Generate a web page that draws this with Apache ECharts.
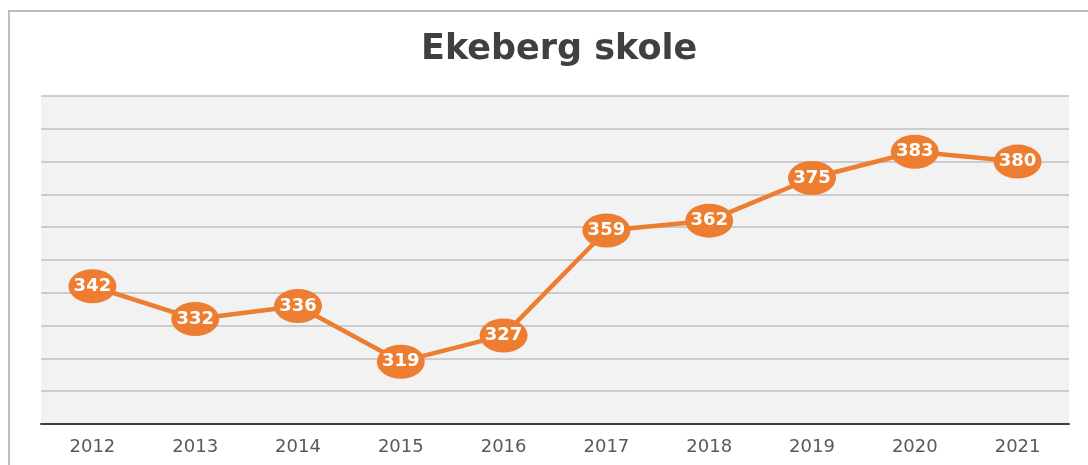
<!DOCTYPE html>
<html>
<head>
<meta charset="utf-8">
<script src="https://cdn.jsdelivr.net/npm/echarts@6/dist/echarts.min.js"></script>
<style>
  html, body { margin: 0; padding: 0; background: #fff; }
  #chart { width: 1088px; height: 465px; }
</style>
</head>
<body>
<div id="chart"></div>
<script>
// 年份和学生人数
const years = ['2012', '2013', '2014', '2015', '2016', '2017', '2018', '2019', '2020', '2021'];
const students = [342, 332, 336, 319, 327, 359, 362, 375, 383, 380];

const chart = echarts.init(document.getElementById('chart'));

const option = {
	backgroundColor: '#ffffff',
	animation: false,
	title: {
		text: 'Ekeberg skole',
		left: 416,
		top: 27,
		textStyle: {
			fontFamily: 'DejaVu Sans',
			fontSize: 35,
			fontWeight: 'bold',
			color: '#404040',
		},
	},
	// 外框线
	graphic: [
		{
			type: 'polyline',
			shape: { points: [[9, 465], [9, 11], [1088, 11]] },
			style: { stroke: '#bdbdbd', lineWidth: 2, fill: null },
			silent: true,
		},
	],
	grid: {
		left: 41,
		right: 19,
		top: 96,
		bottom: 41,
		show: true,
		backgroundColor: '#f2f2f2',
		borderWidth: 0,
	},
	xAxis: {
		type: 'category',
		data: years,
		boundaryGap: true,
		axisLine: { show: true, lineStyle: { color: '#404040', width: 2 } },
		axisTick: { show: false },
		axisLabel: {
			color: '#595959',
			fontFamily: 'DejaVu Sans',
			fontSize: 18,
			margin: 14,
		},
	},
	yAxis: {
		type: 'value',
		min: 300,
		max: 400,
		interval: 10,
		axisLine: { show: false },
		axisTick: { show: false },
		axisLabel: { show: false },
		splitLine: { lineStyle: { color: '#bfbfbf', width: 1.5 } },
	},
	series: [
		{
			type: 'line',
			data: students,
			symbol: 'circle',
			symbolSize: [48, 34],
			lineStyle: { color: '#ed7d31', width: 4.5 },
			itemStyle: { color: '#ed7d31' },
			label: {
				show: true,
				position: 'inside',
				color: '#ffffff',
				fontFamily: 'DejaVu Sans',
				fontWeight: 'bold',
				fontSize: 18,
			},
		},
	],
};

chart.setOption(option);
</script>
</body>
</html>
